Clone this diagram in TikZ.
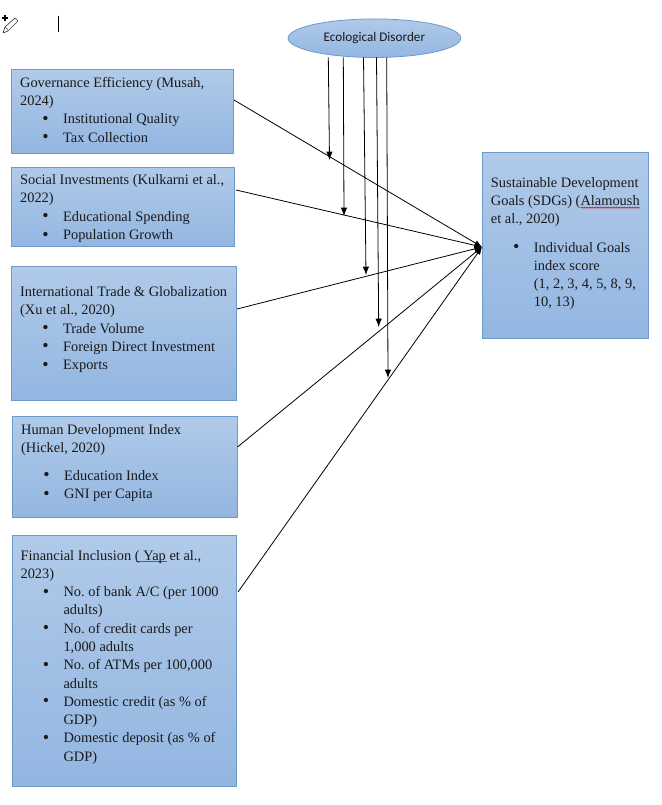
\documentclass[tikz,border=0pt]{standalone}
\usepackage{fontspec}
\setmainfont{Liberation Serif}
\newfontfamily\calibrifont{Carlito}
\usetikzlibrary{positioning,calc,arrows.meta,shapes.geometric,decorations.pathmorphing}
\definecolor{boxtop}{HTML}{B0CAE9}
\definecolor{boxbot}{HTML}{93B6E1}
\definecolor{boxline}{HTML}{6C9BC9}
\definecolor{textdark}{HTML}{1A1A1A}
\definecolor{linkblue}{HTML}{2F5FD0}
\newcommand{\plainspaces}{\frenchspacing\spaceskip=0pt\relax\xspaceskip=0pt\relax}
\newenvironment{subitems}[1][0pt]{\begin{list}{\raisebox{-0.4pt}{\fontsize{13.5}{13.5}\selectfont\textbullet}}{%
  \setlength{\leftmargin}{32.2pt}\setlength{\labelsep}{10.8pt}\setlength{\labelwidth}{6pt}%
  \setlength{\itemsep}{0pt}\setlength{\parsep}{0pt}\setlength{\topsep}{#1}\setlength{\partopsep}{0pt}}\plainspaces}{\end{list}}
\newlength{\markw}
\newcommand{\spellmark}[1]{\settowidth{\markw}{#1}\rlap{\tikz[baseline=1.6pt]\draw[red!90!black, line width=0.45pt, decorate, decoration={snake,amplitude=0.45pt,segment length=2pt}] (0pt,0pt) -- (\markw,0pt);}#1}
\newcommand{\linkmark}[1]{\settowidth{\markw}{#1}\rlap{\tikz[baseline=1.4pt]\draw[linkblue, line width=0.45pt, double=boxtop, double distance=0.4pt] (0pt,0pt) -- (\markw,0pt);}#1}

\begin{document}
\begin{tikzpicture}[
    x=0.75pt, y=-0.75pt,
    box/.style={draw=boxline, line width=0.6pt, top color=boxtop, bottom color=boxbot, anchor=north west,
        inner xsep=6.4pt, inner ysep=0pt, align=left, text=textdark, font=\fontsize{10.8}{13.7}\selectfont},
    arrow/.style={-{Latex[length=2mm,width=1.6mm]}, line width=0.6pt},
    modarrow/.style={-{Latex[length=2.2mm,width=1.7mm]}, line width=0.6pt},
]
\useasboundingbox (0,0) rectangle (661,805);
% left column
\node[box, text width=153.6pt, text height=13.15pt, text depth=49.85pt] (gov) at (11.2,69.5) {\plainspaces Governance Efficiency (Musah,\\2024)
\begin{subitems}\item Institutional Quality \item Tax Collection\end{subitems}};
\node[box, text width=154.3pt, text height=13.15pt, text depth=46.15pt, below=9.35pt of gov.south west, anchor=north west] (soc) {\plainspaces Social Investments (Kulkarni et al.,\\2022)
\begin{subitems}\item Educational Spending \item Population Growth\end{subitems}};
\node[box, text width=155.8pt, text height=22.5pt, text depth=78pt, below=14.65pt of soc.south west, anchor=north west] (trade) {\plainspaces International Trade \& Globalization\\(Xu et al., 2020)
\begin{subitems}\item Trade Volume \item Foreign Direct Investment \item Exports\end{subitems}};
\node[box, text width=155.8pt, text height=13.5pt, text depth=62.25pt, below=11.25pt of trade.south west, anchor=north west, xshift=0.75pt] (hdi) {\plainspaces Human Development Index\\(Hickel, 2020)
\begin{subitems}[7pt]\item Education Index \item GNI per Capita\end{subitems}};
\node[box, text width=155.6pt, text height=18.75pt, text depth=169.5pt, below=12.75pt of hdi.south west, anchor=north west, xshift=-0.4pt] (fin) {\plainspaces Financial Inclusion \linkmark{( Yap} et al.,\\2023)
\begin{subitems}\item No. of bank A/C (per 1000\\adults) \item No. of credit cards per\\1,000 adults \item No. of ATMs per 100,000\\adults \item Domestic credit (as \% of\\GDP) \item Domestic deposit (as \% of\\GDP)\end{subitems}};
% right side
\node[box, text width=112pt, text height=25.75pt, text depth=113.65pt] (sdg) at (482,152.5) {\plainspaces Sustainable Development\\Goals (SDGs) (\spellmark{Alamoush}\\et al., 2020)
\begin{subitems}[7.5pt]\item Individual Goals\\index score\\(1, 2, 3, 4, 5, 8, 9,\\10, 13)\end{subitems}};
\node[ellipse, draw=boxline, line width=0.6pt, top color=boxtop, bottom color=boxbot, minimum width=129.5pt, minimum height=28.9pt, inner sep=0pt, font=\calibrifont\fontsize{9.9}{11}\selectfont, text=textdark] (eco) at (374.4,38.2) {Ecological Disorder};
% free ends
\coordinate (sdgin) at (482,247);
\coordinate (govout) at (234,100);
\coordinate (socout) at (236,190);
\coordinate (tradeout) at (237,309);
\coordinate (hdiout) at (237.5,447);
\coordinate (finout) at (238,592);
\draw[arrow] (govout) -- (sdgin);
\draw[arrow] (socout) -- (sdgin);
\draw[arrow] (tradeout) -- (sdgin);
\draw[arrow] (hdiout) -- (sdgin);
\draw[arrow] (finout) -- (sdgin);
% moderator arrows
\foreach \name/\xa/\xb/\yb in {a/328.3/329.5/160, b/343.3/344/216, c/363.5/366/275, d/376.5/378.7/327, e/386.7/388/378}{
  \coordinate (top\name) at (\xa,57.5);
  \coordinate (end\name) at (\xb,\yb);
  \draw[modarrow] (top\name) -- (end\name);
}
% marks at the top left of the page
\coordinate (caret) at (58.5,16);
\draw[line width=0.8pt] (caret) -- ++(0,16);
\coordinate (wand) at (3,33);
\draw[line width=0.5pt, rounded corners=0.5pt, draw=black!75] (wand) -- ++(2,-6) -- ++(10,-9) -- ++(3,3) -- ++(-10,10) -- cycle;
\draw[line width=0.5pt, draw=black!75] (wand) ++(2,-6) -- ++(3,3);
\draw[line width=0.9pt] (5,15) -- (5,21) (2,18) -- (8,18);
\end{tikzpicture}
\end{document}
